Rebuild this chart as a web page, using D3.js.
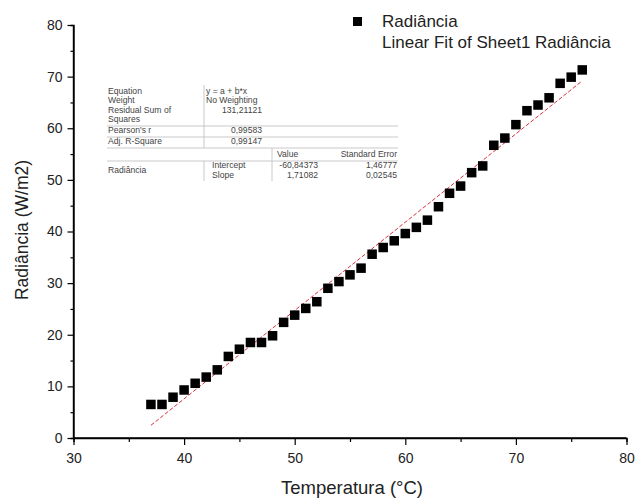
<!DOCTYPE html>
<html><head><meta charset="utf-8">
<script src="https://cdn.jsdelivr.net/npm/d3@7"></script>
<style>body{margin:0;background:#fff}svg{display:block}text{font-family:"Liberation Sans",Arial,sans-serif}</style>
</head><body>
<script>
const temperatures = [37,38,39,40,41,42,43,44,45,46,47,48,49,50,51,52,53,54,55,56,57,58,59,60,61,62,63,64,65,66,67,68,69,70,71,72,73,74,75,76];
const radiance = [6.5,6.5,7.9,9.3,10.6,11.8,13.2,15.8,17.2,18.5,18.5,19.8,22.4,23.8,25.1,26.4,29.0,30.3,31.6,32.9,35.6,36.9,38.2,39.6,40.8,42.2,44.8,47.4,48.8,51.4,52.7,56.7,58.1,60.7,63.4,64.5,65.9,68.7,69.9,71.3];
const fitCoefficients = [-60.84373, 1.71082]; // intercept, slope
const xTicks = [30,40,50,60,70,80];
const yTicks = [0,10,20,30,40,50,60,70,80];
const legendLabels = ["Radiância","Linear Fit of Sheet1 Radiância"];
const tableTop = [["Equation","y = a + b*x"],["Weight","No Weighting"],["Residual Sum of\nSquares","131,21121"],["Pearson's r","0,99583"],["Adj. R-Square","0,99147"]];
const tableHeader = ["Value","Standard Error"];
const tableRows = [["Intercept","-60,84373","1,46777"],["Slope","1,71082","0,02545"]];
const tableGroup = "Radiância";

const W=635,H=499;
const svg=d3.select("body").append("svg").attr("width",W).attr("height",H);
const x=d3.scaleLinear().domain([30,80]).range([73.5,626.5]);
const y=d3.scaleLinear().domain([0,80]).range([438,25]);

// axes
const gx=svg.append("g").attr("transform","translate(0,438)")
 .call(d3.axisBottom(x).tickValues(xTicks).tickSize(7).tickPadding(8).tickFormat(d3.format("d")));
const gxm=svg.append("g").attr("transform","translate(0,438)")
 .call(d3.axisBottom(x).tickValues(d3.range(35,80,10)).tickSize(4).tickFormat(""));
const gy=svg.append("g").attr("transform","translate(73.5,0)")
 .call(d3.axisLeft(y).tickValues(yTicks).tickSize(6).tickPadding(5).tickFormat(d3.format("d")));
const gym=svg.append("g").attr("transform","translate(73.5,0)")
 .call(d3.axisLeft(y).tickValues(d3.range(5,80,10)).tickSize(3).tickFormat(""));
[gx,gxm,gy,gym].forEach(g=>{g.select(".domain").attr("stroke","#000").attr("stroke-width",1.4);g.selectAll(".tick line").attr("stroke","#000").attr("stroke-width",1.2);g.selectAll("text").attr("font-size",14).attr("fill","#222");});
gx.selectAll(".domain").attr("d","M73.5,0H626.5");
gy.selectAll(".domain").attr("d","M0,25V438");

svg.append("text").attr("x",352).attr("y",494).attr("text-anchor","middle").attr("font-size",18.5).attr("fill","#222").text("Temperatura (°C)");
svg.append("text").attr("transform","translate(28,230) rotate(-90)").attr("text-anchor","middle").attr("font-size",17.5).attr("fill","#222").text("Radiância (W/m2)");

// fit line
const fitY=t=>fitCoefficients[0]+fitCoefficients[1]*t;
const x0=d3.min(temperatures),x1=d3.max(temperatures);
svg.append("line").attr("x1",x(x0)).attr("y1",y(fitY(x0))).attr("x2",x(x1)).attr("y2",y(fitY(x1)))
 .attr("stroke","#d9303e").attr("stroke-width",1).attr("stroke-dasharray","4,2");

// points
const s=9.5;
svg.append("g").selectAll("rect").data(temperatures).join("rect")
 .attr("x",(d)=>x(d)-s/2).attr("y",(d,i)=>y(radiance[i])-s/2).attr("width",s).attr("height",s).attr("fill","#000");

// legend
svg.append("rect").attr("x",353).attr("y",17).attr("width",9).attr("height",9).attr("fill","#000");
legendLabels.forEach((l,i)=>svg.append("text").attr("x",382).attr("y",27+i*21).attr("font-size",17).attr("fill","#222").text(l));

// table
const tg=svg.append("g").attr("font-size",8.6).attr("fill","#444");
const c1=108,c2=206,c2r=262,c3=272,c3r=318,c4r=397,tl=107,tr=398;
let rowY=[94,103,113,133,144];
tableTop.forEach((r,i)=>{
  const lines=r[0].split("\n");
  lines.forEach((ln,j)=>tg.append("text").attr("x",c1).attr("y",rowY[i]+j*9).text(ln));
  if(i<2) tg.append("text").attr("x",c2).attr("y",rowY[i]).text(r[1]);
  else tg.append("text").attr("x",c2r).attr("y",rowY[i]).attr("text-anchor","end").text(r[1]);
});
tg.append("text").attr("x",c3+5).attr("y",157).text(tableHeader[0]);
tg.append("text").attr("x",c4r).attr("y",157).attr("text-anchor","end").text(tableHeader[1]);
tableRows.forEach((r,i)=>{
  const yy=168+i*10;
  tg.append("text").attr("x",c2+6).attr("y",yy).text(r[0]);
  tg.append("text").attr("x",c3r).attr("y",yy).attr("text-anchor","end").text(r[1]);
  tg.append("text").attr("x",c4r).attr("y",yy).attr("text-anchor","end").text(r[2]);
});
tg.append("text").attr("x",c1).attr("y",173).text(tableGroup);
const lc="#bbb";
[[tl,126,tr,126],[tl,137,tr,137],[tl,148,tr,148],[tl,161,tr,161],
 [c2-2,85,c2-2,148],[c2-2,161,c2-2,181],[c3,148,c3,181]].forEach(a=>
 svg.append("line").attr("x1",a[0]).attr("y1",a[1]).attr("x2",a[2]).attr("y2",a[3]).attr("stroke",lc).attr("stroke-width",0.8));
</script>
</body></html>
